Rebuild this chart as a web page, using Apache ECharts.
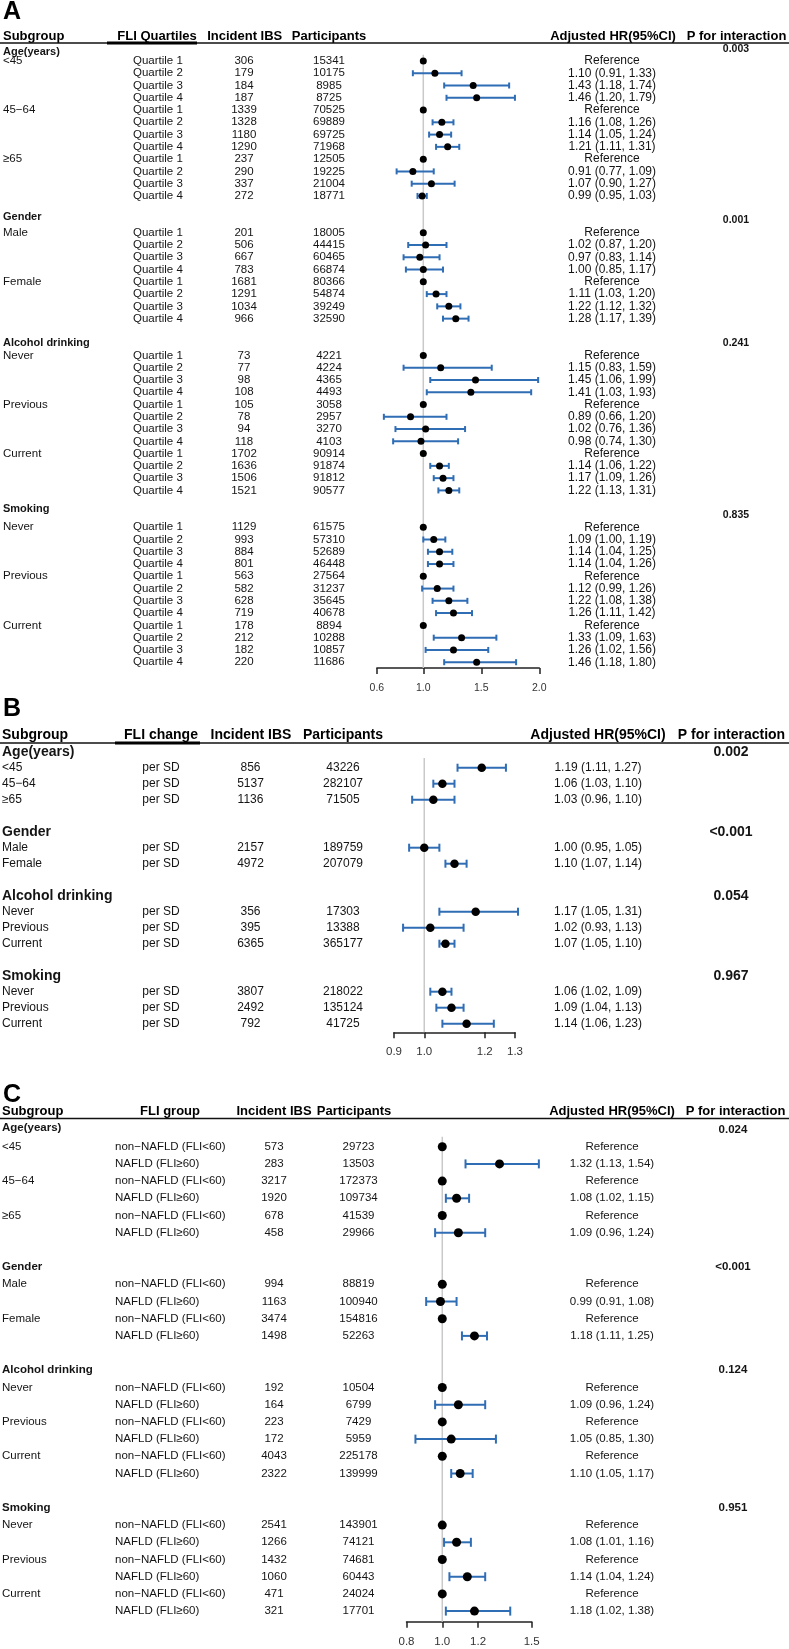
<!DOCTYPE html>
<html>
<head>
<meta charset="utf-8">
<script src="https://cdn.jsdelivr.net/npm/echarts@6/dist/echarts.min.js"></script>
<style>
html, body { margin: 0; padding: 0; background: #fff; }
#forest { width: 789px; height: 1649px; }
</style>
</head>
<body>
<div id="forest"></div>
<script>
// subgroups (same for all three panels)
const groupNames = ['Age(years)', 'Gender', 'Alcohol drinking', 'Smoking'];
const groupLevels = [['<45', '45\u221264', '\u226565'], ['Male', 'Female'], ['Never', 'Previous', 'Current'], ['Never', 'Previous', 'Current']];

// panel A: FLI quartiles
const quartiles = ['Quartile 1', 'Quartile 2', 'Quartile 3', 'Quartile 4'];
const aEvents = [306, 179, 184, 187, 1339, 1328, 1180, 1290, 237, 290, 337, 272,
  201, 506, 667, 783, 1681, 1291, 1034, 966,
  73, 77, 98, 108, 105, 78, 94, 118, 1702, 1636, 1506, 1521,
  1129, 993, 884, 801, 563, 582, 628, 719, 178, 212, 182, 220];
const aParticipants = [15341, 10175, 8985, 8725, 70525, 69889, 69725, 71968, 12505, 19225, 21004, 18771,
  18005, 44415, 60465, 66874, 80366, 54874, 39249, 32590,
  4221, 4224, 4365, 4493, 3058, 2957, 3270, 4103, 90914, 91874, 91812, 90577,
  61575, 57310, 52689, 46448, 27564, 31237, 35645, 40678, 8894, 10288, 10857, 11686];
const aHR = [1, 1.10, 1.43, 1.46, 1, 1.16, 1.14, 1.21, 1, 0.91, 1.07, 0.99,
  1, 1.02, 0.97, 1.00, 1, 1.11, 1.22, 1.28,
  1, 1.15, 1.45, 1.41, 1, 0.89, 1.02, 0.98, 1, 1.14, 1.17, 1.22,
  1, 1.09, 1.14, 1.14, 1, 1.12, 1.22, 1.26, 1, 1.33, 1.26, 1.46];
const aLower = [null, 0.91, 1.18, 1.20, null, 1.08, 1.05, 1.11, null, 0.77, 0.90, 0.95,
  null, 0.87, 0.83, 0.85, null, 1.03, 1.12, 1.17,
  null, 0.83, 1.06, 1.03, null, 0.66, 0.76, 0.74, null, 1.06, 1.09, 1.13,
  null, 1.00, 1.04, 1.04, null, 0.99, 1.08, 1.11, null, 1.09, 1.02, 1.18];
const aUpper = [null, 1.33, 1.74, 1.79, null, 1.26, 1.24, 1.31, null, 1.09, 1.27, 1.03,
  null, 1.20, 1.14, 1.17, null, 1.20, 1.32, 1.39,
  null, 1.59, 1.99, 1.93, null, 1.20, 1.36, 1.30, null, 1.22, 1.26, 1.31,
  null, 1.19, 1.25, 1.26, null, 1.26, 1.38, 1.42, null, 1.63, 1.56, 1.80];
const aPInteraction = ['0.003', '0.001', '0.241', '0.835'];
const aTicks = [0.6, 1.0, 1.5, 2.0];

// panel B: per SD of FLI
const perSD = ['per SD'];
const bEvents = [856, 5137, 1136, 2157, 4972, 356, 395, 6365, 3807, 2492, 792];
const bParticipants = [43226, 282107, 71505, 189759, 207079, 17303, 13388, 365177, 218022, 135124, 41725];
const bHR = [1.19, 1.06, 1.03, 1.00, 1.10, 1.17, 1.02, 1.07, 1.06, 1.09, 1.14];
const bLower = [1.11, 1.03, 0.96, 0.95, 1.07, 1.05, 0.93, 1.05, 1.02, 1.04, 1.06];
const bUpper = [1.27, 1.10, 1.10, 1.05, 1.14, 1.31, 1.13, 1.10, 1.09, 1.13, 1.23];
const bPInteraction = ['0.002', '<0.001', '0.054', '0.967'];
const bTicks = [0.9, 1.0, 1.2, 1.3];

// panel C: NAFLD groups
const fliGroups = ['non\u2212NAFLD (FLI<60)', 'NAFLD (FLI\u226560)'];
const cEvents = [573, 283, 3217, 1920, 678, 458, 994, 1163, 3474, 1498,
  192, 164, 223, 172, 4043, 2322, 2541, 1266, 1432, 1060, 471, 321];
const cParticipants = [29723, 13503, 172373, 109734, 41539, 29966, 88819, 100940, 154816, 52263,
  10504, 6799, 7429, 5959, 225178, 139999, 143901, 74121, 74681, 60443, 24024, 17701];
const cHR = [1, 1.32, 1, 1.08, 1, 1.09, 1, 0.99, 1, 1.18, 1, 1.09, 1, 1.05, 1, 1.10, 1, 1.08, 1, 1.14, 1, 1.18];
const cLower = [null, 1.13, null, 1.02, null, 0.96, null, 0.91, null, 1.11, null, 0.96, null, 0.85, null, 1.05, null, 1.01, null, 1.04, null, 1.02];
const cUpper = [null, 1.54, null, 1.15, null, 1.24, null, 1.08, null, 1.25, null, 1.24, null, 1.30, null, 1.17, null, 1.16, null, 1.24, null, 1.38];
const cPInteraction = ['0.024', '<0.001', '0.124', '0.951'];
const cTicks = [0.8, 1.0, 1.2, 1.5];

const FONT = '"Liberation Sans", Arial, Helvetica, sans-serif';
const CI_COLOR = '#2f6db5';
const TEXT_COLOR = '#141414';

// header row, data rows, blank row ... for each group
function buildRows(subLabels, events, participants, hr, lower, upper, pvals) {
  let rows = [];
  let idx = 0, k = 0;
  groupNames.forEach((g, gi) => {
    rows.push({ idx: idx, head: true, gi: gi, label: g, p: pvals[gi] });
    idx++;
    groupLevels[gi].forEach(lv => {
      subLabels.forEach((s, si) => {
        rows.push({
          idx: idx, head: false, label: si === 0 ? lv : '', sub: s,
          n: events[k], total: participants[k], hr: hr[k], lo: lower[k], hi: upper[k]
        });
        idx++; k++;
      });
    });
    idx++;
  });
  return rows;
}

function hrText(r) {
  if (r.lo == null) return 'Reference';
  return r.hr.toFixed(2) + ' (' + r.lo.toFixed(2) + ', ' + r.hi.toFixed(2) + ')';
}

const panels = [
  {
    rows: buildRows(quartiles, aEvents, aParticipants, aHR, aLower, aUpper, aPInteraction),
    ticks: aTicks, xMin: 0.6, xMax: 2.0, left: 376.9, right: 539.3,
    row0: 48.7, rowH: 12.27, lineTop: 0.5, axisY: 668,
    dot: 7, cap: 6, tickFont: 10.5, labelMargin: 15,
    headDy: [3.5, -3.5, 0, -6],
    col: { sub: 3, sub2: 133, sub2Align: 'left', n: 244, total: 329, hr: 612, p: 736 },
    fs: { group: 11, body: 11.5, hr: 12, p: 10.5 }
  },
  {
    rows: buildRows(perSD, bEvents, bParticipants, bHR, bLower, bUpper, bPInteraction),
    ticks: bTicks, xMin: 0.9, xMax: 1.3, left: 394, right: 515,
    row0: 751.7, rowH: 16, lineTop: 0.4, axisY: 1032.3,
    dot: 8.5, cap: 8, tickFont: 11.5, labelMargin: 14,
    headDy: [0, 0, 0, 0],
    col: { sub: 2, sub2: 161, sub2Align: 'center', n: 250.5, total: 343, hr: 598, p: 731 },
    fs: { group: 14, body: 12, hr: 12, p: 14 }
  },
  {
    rows: buildRows(fliGroups, cEvents, cParticipants, cHR, cLower, cUpper, cPInteraction),
    ticks: cTicks, xMin: 0.8, xMax: 1.5, left: 406.5, right: 531.7,
    row0: 1129.5, rowH: 17.2, lineTop: 0.42, axisY: 1621.7,
    dot: 9, cap: 9, tickFont: 11.5, labelMargin: 14,
    headDy: [-1.5, 0, 0, 0],
    col: { sub: 2, sub2: 115, sub2Align: 'left', n: 274, total: 358.5, hr: 612, p: 733 },
    fs: { group: 11.5, body: 11.5, hr: 11.5, p: 11.5 }
  }
];

let grids = [], xAxes = [], yAxes = [], series = [];

panels.forEach((cfg, pi) => {
  const yMax = (cfg.axisY - cfg.row0) / cfg.rowH;
  const top = cfg.row0 + cfg.lineTop * cfg.rowH;
  grids.push({ left: cfg.left, width: cfg.right - cfg.left, top: top, height: cfg.axisY - top, containLabel: false, outerBoundsMode: 'none' });
  xAxes.push({
    gridIndex: pi, type: 'value', min: cfg.xMin, max: cfg.xMax, position: 'bottom',
    axisLine: { show: true, onZero: false, lineStyle: { color: '#222', width: 1.5 } },
    axisTick: { show: true, customValues: cfg.ticks, length: 6, lineStyle: { color: '#222', width: 1.5 } },
    axisLabel: { customValues: cfg.ticks, formatter: v => v.toFixed(1), margin: cfg.labelMargin, fontSize: cfg.tickFont, color: '#333', fontFamily: FONT },
    splitLine: { show: false }
  });
  yAxes.push({ gridIndex: pi, type: 'value', inverse: true, min: cfg.lineTop, max: yMax, show: false });

  // reference line at HR = 1
  series.push({
    type: 'line', xAxisIndex: pi, yAxisIndex: pi, silent: true, z: 1,
    data: [[1, cfg.lineTop], [1, yMax]], showSymbol: false,
    lineStyle: { color: '#c9c9c9', width: 1.5 }
  });

  // confidence intervals
  series.push({
    type: 'custom', xAxisIndex: pi, yAxisIndex: pi, silent: true, z: 3, clip: false,
    data: cfg.rows.filter(r => !r.head && r.lo != null).map(r => [r.lo, r.idx, r.hi]),
    renderItem: (params, api) => {
      const p0 = api.coord([api.value(0), api.value(1)]);
      const p1 = api.coord([api.value(2), api.value(1)]);
      const h = cfg.cap / 2;
      const st = { stroke: CI_COLOR, lineWidth: 2 };
      return {
        type: 'group', children: [
          { type: 'line', shape: { x1: p0[0], y1: p0[1], x2: p1[0], y2: p1[1] }, style: st },
          { type: 'line', shape: { x1: p0[0], y1: p0[1] - h, x2: p0[0], y2: p0[1] + h }, style: st },
          { type: 'line', shape: { x1: p1[0], y1: p1[1] - h, x2: p1[0], y2: p1[1] + h }, style: st }
        ]
      };
    }
  });

  // point estimates
  series.push({
    type: 'scatter', xAxisIndex: pi, yAxisIndex: pi, silent: true, z: 4,
    symbolSize: cfg.dot, itemStyle: { color: '#000', opacity: 1 },
    data: cfg.rows.filter(r => !r.head).map(r => [r.hr, r.idx])
  });

  // table text
  series.push({
    type: 'custom', xAxisIndex: pi, yAxisIndex: pi, silent: true, z: 5, clip: false,
    data: cfg.rows.map(r => [cfg.xMin, r.idx]),
    renderItem: (params, api) => {
      const r = cfg.rows[params.dataIndex];
      const y = api.coord([api.value(0), api.value(1)])[1];
      const t = (text, x, align, size, bold, dy) => ({
        type: 'text', x: x, y: y + (dy || 0),
        style: { text: String(text), align: align, verticalAlign: 'middle', fill: TEXT_COLOR, fontSize: size, fontWeight: bold ? 'bold' : 'normal', fontFamily: FONT }
      });
      if (r.head) {
        return { type: 'group', children: [
          t(r.label, cfg.col.sub, 'left', cfg.fs.group, true, cfg.headDy[r.gi]),
          t(r.p, cfg.col.p, 'center', cfg.fs.p, true)
        ] };
      }
      const kids = [
        t(r.sub, cfg.col.sub2, cfg.col.sub2Align, cfg.fs.body, false),
        t(r.n, cfg.col.n, 'center', cfg.fs.body, false),
        t(r.total, cfg.col.total, 'center', cfg.fs.body, false),
        t(hrText(r), cfg.col.hr, 'center', cfg.fs.hr, false)
      ];
      if (r.label) kids.push(t(r.label, cfg.col.sub, 'left', cfg.fs.body, false));
      return { type: 'group', children: kids };
    }
  });
});

// panel letters and column headers
const headers = [
  { letter: 'A', letterY: 11.7, y: 36, lineY: 43, size: 13,
    cols: [['Subgroup', 3, 'left'], ['FLI Quartiles', 157, 'center'], ['Incident IBS', 244.7, 'center'], ['Participants', 329, 'center'], ['Adjusted HR(95%CI)', 613, 'center'], ['P for interaction', 736.5, 'center']],
    under: [107, 197] },
  { letter: 'B', letterY: 709.5, y: 735, lineY: 743, size: 14,
    cols: [['Subgroup', 2, 'left'], ['FLI change', 161, 'center'], ['Incident IBS', 251, 'center'], ['Participants', 343, 'center'], ['Adjusted HR(95%CI)', 598, 'center'], ['P for interaction', 731.5, 'center']],
    under: [115, 200] },
  { letter: 'C', letterY: 1095, y: 1111.7, lineY: 1118.5, size: 13,
    cols: [['Subgroup', 2, 'left'], ['FLI group', 170, 'center'], ['Incident IBS', 274, 'center'], ['Participants', 354, 'center'], ['Adjusted HR(95%CI)', 612, 'center'], ['P for interaction', 735.5, 'center']],
    under: null }
];

let graphics = [];
headers.forEach(h => {
  graphics.push({ type: 'text', x: 3, y: h.letterY, style: { text: h.letter, align: 'left', verticalAlign: 'middle', fill: '#000', fontSize: 25, fontWeight: 'bold', fontFamily: FONT } });
  h.cols.forEach(c => {
    graphics.push({ type: 'text', x: c[1], y: h.y, style: { text: c[0], align: c[2], verticalAlign: 'middle', fill: '#000', fontSize: h.size, fontWeight: 'bold', fontFamily: FONT } });
  });
  graphics.push({ type: 'line', shape: { x1: 0, y1: h.lineY, x2: 789, y2: h.lineY }, style: { stroke: '#111', lineWidth: 1.6 } });
  if (h.under) {
    graphics.push({ type: 'line', shape: { x1: h.under[0], y1: h.lineY, x2: h.under[1], y2: h.lineY }, style: { stroke: '#000', lineWidth: 3.2 } });
  }
});

const chart = echarts.init(document.getElementById('forest'));
chart.setOption({
  backgroundColor: '#fff',
  animation: false,
  grid: grids,
  xAxis: xAxes,
  yAxis: yAxes,
  graphic: graphics,
  series: series
});
</script>
</body>
</html>
